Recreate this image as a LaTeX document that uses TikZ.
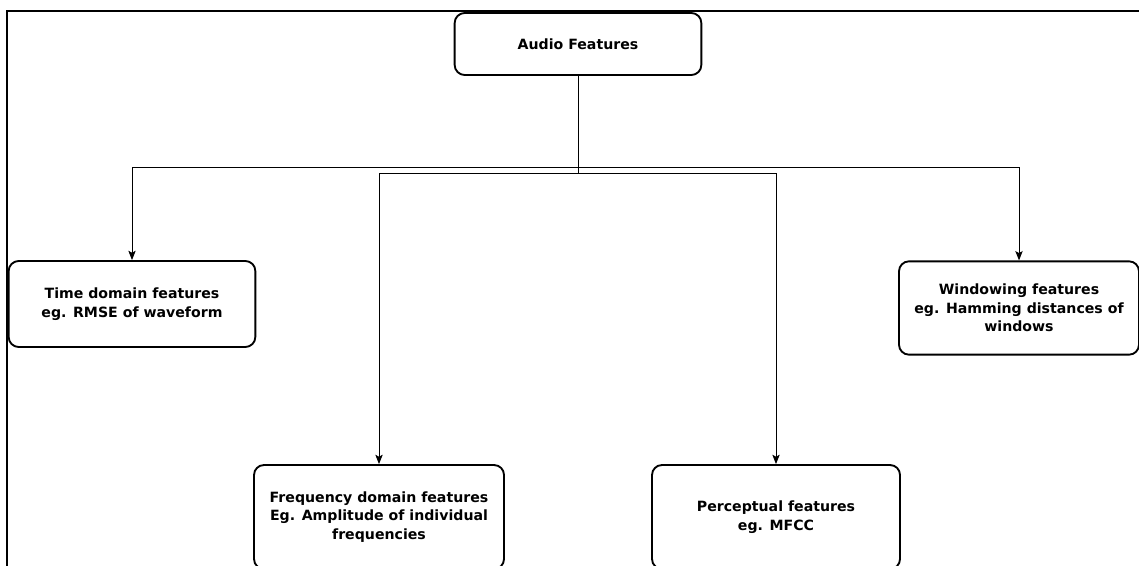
\documentclass[tikz,border=0pt]{standalone}
\usepackage{fontspec}
\setmainfont{DejaVu Sans}
\usetikzlibrary{arrows.meta}
\begin{document}
\begin{tikzpicture}[
        x=0.75pt, y=-0.75pt,
        feat/.style={rectangle, rounded corners=7.5pt, draw=black, line width=1.4pt, align=center, inner sep=2pt, font=\fontsize{10.6}{14}\selectfont\bfseries},
        edge/.style={->, line width=0.75pt, >={Stealth[length=7pt, width=5.5pt, inset=1.5pt]}},
    ]
    \useasboundingbox (0,0) rectangle (1139,566);

    % Moldura
    \draw[line width=1.5pt] (7,590) -- (7,11) -- (1160,11);

    % Raiz
    \node[feat, minimum width=185pt, minimum height=46.5pt] (audio) at (578,44) {Audio Features};

    % Categorias
    \node[feat, minimum width=185pt, minimum height=64.5pt] (time) at (132,304) {Time domain features\\eg. RMSE of waveform};
    \node[feat, minimum width=187.5pt, minimum height=78pt] (freq) at (379,517) {Frequency domain features\\Eg. Amplitude of individual\\frequencies};
    \node[feat, minimum width=186pt, minimum height=78pt] (perc) at (776,517) {Perceptual features\\eg. MFCC};
    \node[feat, minimum width=180pt, minimum height=70pt] (win) at (1019,308) {Windowing features\\eg. Hamming distances of\\windows};

    % Barramentos
    \coordinate (busA) at (578,168);
    \coordinate (busB) at (578,174);

    % Setas
    \draw[edge] (audio.south) -- (busA) -| (time.north);
    \draw[edge] (busA) -| (win.north);
    \draw[edge] (audio.south) -- (busB) -| (freq.north);
    \draw[edge] (busB) -| (perc.north);

\end{tikzpicture}
\end{document}
